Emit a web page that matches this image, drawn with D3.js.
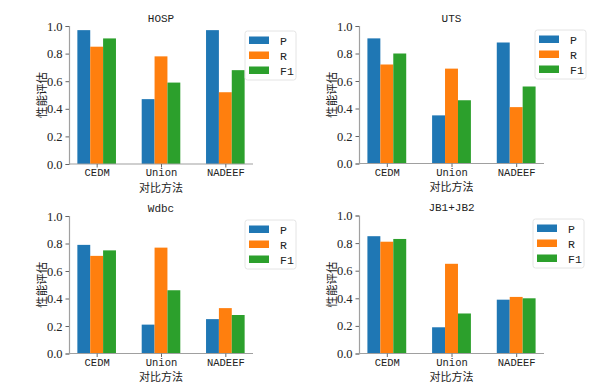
<!DOCTYPE html>
<html><head><meta charset="utf-8">
<script src="https://cdn.jsdelivr.net/npm/d3@7"></script>
<style>body{margin:0;background:#fff}
.serif{font-family:"Liberation Serif","DejaVu Serif",serif}
.mono{font-family:"Liberation Mono","DejaVu Sans Mono",monospace}
.cjk{font-family:"Noto Sans CJK SC",sans-serif}
</style>
</head><body><svg id="c" width="597" height="387"></svg>
<script>
const categories = ["CEDM", "Union", "NADEEF"];
const seriesNames = ["P", "R", "F1"];
const colors = ["#1f77b4", "#ff7f0e", "#2ca02c"];
const yTicks = [0.0, 0.2, 0.4, 0.6, 0.8, 1.0];
const titles = ["HOSP", "UTS", "Wdbc", "JB1+JB2"];
const hospP = [0.97, 0.47, 0.97], hospR = [0.85, 0.78, 0.52], hospF1 = [0.91, 0.59, 0.68];
const utsP = [0.91, 0.35, 0.88], utsR = [0.72, 0.69, 0.41], utsF1 = [0.80, 0.46, 0.56];
const wdbcP = [0.79, 0.21, 0.25], wdbcR = [0.71, 0.77, 0.33], wdbcF1 = [0.75, 0.46, 0.28];
const jbP = [0.85, 0.19, 0.39], jbR = [0.81, 0.65, 0.41], jbF1 = [0.83, 0.29, 0.40];
const datasets = [[hospP, hospR, hospF1], [utsP, utsR, utsF1], [wdbcP, wdbcR, wdbcF1], [jbP, jbR, jbF1]];
const yLabel = "性能评估", xLabel = "对比方法";

const layout = [
  {x0: 69, x1: 253, y0: 26, y1: 164, lx: 245, ly: 31},
  {x0: 359, x1: 544, y0: 26, y1: 163.5, lx: 535, ly: 30},
  {x0: 69, x1: 253, y0: 216, y1: 353.5, lx: 245, ly: 220},
  {x0: 359, x1: 544, y0: 215.5, y1: 353.5, lx: 533, ly: 219}
];
const svg = d3.select("#c");
const barW = 0.2;

datasets.forEach((ds, pi) => {
  const L = layout[pi];
  const g = svg.append("g");
  const x = d3.scaleLinear().domain([-0.43, 2.43]).range([L.x0, L.x1]);
  const y = d3.scaleLinear().domain([0, 1]).range([L.y1, L.y0]);
  ds.forEach((vals, si) => {
    g.selectAll(null).data(vals).enter().append("rect")
      .attr("x", (d, i) => x(i + (si - 1) * barW - barW / 2))
      .attr("width", x(barW) - x(0))
      .attr("y", d => y(d))
      .attr("height", d => y(0) - y(d))
      .attr("fill", colors[si]);
  });
  const ya = d3.axisLeft(y).tickValues(yTicks).tickFormat(d3.format(".1f")).tickSize(3.5).tickPadding(3);
  const yg = g.append("g").attr("transform", `translate(${L.x0},0)`).call(ya);
  yg.attr("font-family", null).attr("font-size", null);
  yg.select(".domain").attr("stroke", "#a0a0a0").attr("stroke-width", 1.2);
  yg.selectAll(".tick line").attr("stroke", "#666");
  yg.selectAll("text").attr("class", "serif").style("font-size", "12.5px").attr("fill", "#222");
  const xa = d3.axisBottom(x).tickValues([0, 1, 2]).tickFormat(i => categories[i]).tickSize(3.5).tickPadding(1.5);
  const xg = g.append("g").attr("transform", `translate(0,${L.y1})`).call(xa);
  xg.attr("font-family", null).attr("font-size", null);
  xg.select(".domain").attr("stroke", "#a0a0a0").attr("stroke-width", 1.2).attr("d", `M${L.x0},0H${L.x1}`);
  xg.selectAll(".tick line").attr("stroke", "#666");
  xg.selectAll("text").attr("class", "mono").style("font-size", "10.5px").attr("fill", "#222");
  g.append("text").attr("class", "mono").attr("x", x(1)).attr("y", L.y0 - 4.5).attr("text-anchor", "middle")
    .style("font-size", "11px").attr("fill", "#222").text(titles[pi]);
  g.append("text").attr("class", "cjk").attr("x", x(1)).attr("y", L.y1 + 27.5).attr("text-anchor", "middle")
    .style("font-size", "11px").attr("fill", "#222").text(xLabel);
  g.append("text").attr("class", "cjk").attr("transform", `translate(${L.x0 - 23},${(L.y0 + L.y1) / 2}) rotate(-90)`)
    .attr("text-anchor", "middle").style("font-size", "11.5px").attr("fill", "#222").text(yLabel);
  const lg = g.append("g").attr("transform", `translate(${L.lx},${L.ly})`);
  lg.append("rect").attr("x", 0).attr("y", 0).attr("width", 51).attr("height", 49).attr("rx", 2.5)
    .attr("fill", "#fff").attr("fill-opacity", 0.85).attr("stroke", "#ddd").attr("stroke-width", 0.8);
  seriesNames.forEach((s, si) => {
    lg.append("rect").attr("x", 4).attr("y", 5.5 + si * 15).attr("width", 20).attr("height", 7.5).attr("fill", colors[si]);
    lg.append("text").attr("class", "mono").attr("x", 35).attr("y", 13.5 + si * 15).style("font-size", "11.5px")
      .attr("fill", "#222").text(s);
  });
});
</script></body></html>
